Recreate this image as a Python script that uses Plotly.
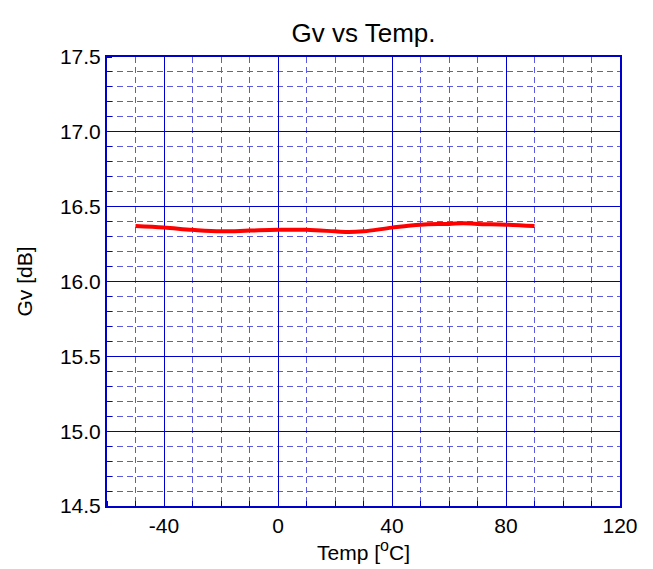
import plotly.graph_objects as go

temp = [-50, -40, -30, -20, -10, 0, 10, 20, 25, 30, 40, 50, 60, 65, 70, 80, 90]
gv = [16.37, 16.36, 16.345, 16.335, 16.34, 16.345, 16.345, 16.335, 16.33, 16.335, 16.36, 16.38, 16.385, 16.39, 16.385, 16.38, 16.37]

x_ticks = [-40, 0, 40, 80, 120]
y_ticks = [14.5, 15.0, 15.5, 16.0, 16.5, 17.0, 17.5]

major = "#0000CC"
minor_c = "#5a5ae6"

fig = go.Figure()
fig.add_trace(go.Scatter(x=temp, y=gv, mode="lines", line=dict(color="#FF0000", width=4, shape="spline"),
                         showlegend=False))

font = "Liberation Sans, Arial, sans-serif"
W, H = 645, 561
fig.update_layout(
    width=W, height=H,
    margin=dict(l=99, r=33, t=49, b=63),
    paper_bgcolor="white", plot_bgcolor="white",
    title=dict(text="Gv vs Temp.", x=0.5, xref="paper", xanchor="center", y=1 - 25/H, yanchor="middle",
               font=dict(family=font, size=26, color="black")),
    font=dict(family=font, color="black"),
)
fig.update_xaxes(
    range=[-60, 120], tickvals=x_ticks, ticktext=[str(v) for v in x_ticks],
    showgrid=True, gridcolor=major, gridwidth=1,
    showline=True, linecolor=major, linewidth=2, mirror=True,
    ticks="", tickfont=dict(size=21), zeroline=False,
    title=dict(text="Temp [<sup><span style='font-size:16px'>o</span></sup>C]", font=dict(size=21), standoff=0),
    minor=dict(dtick=10, tick0=0, showgrid=True, gridcolor=minor_c, griddash="6px,4px", gridwidth=1,
               ticks="inside", ticklen=5, tickcolor=major),
)
fig.update_yaxes(
    range=[14.5, 17.5], tickvals=y_ticks, ticktext=[f"{v:.1f}" for v in y_ticks],
    showgrid=True, gridcolor=major, gridwidth=1,
    showline=True, linecolor=major, linewidth=2, mirror=True,
    ticks="", tickfont=dict(size=21), zeroline=False,
    title=dict(text="Gv [dB]", font=dict(size=21), standoff=22),
    minor=dict(dtick=0.1, tick0=14.5, showgrid=True, gridcolor=minor_c, griddash="6px,4px", gridwidth=1,
               ticks="inside", ticklen=5, tickcolor=major),
)
fig.write_html("out.html")
